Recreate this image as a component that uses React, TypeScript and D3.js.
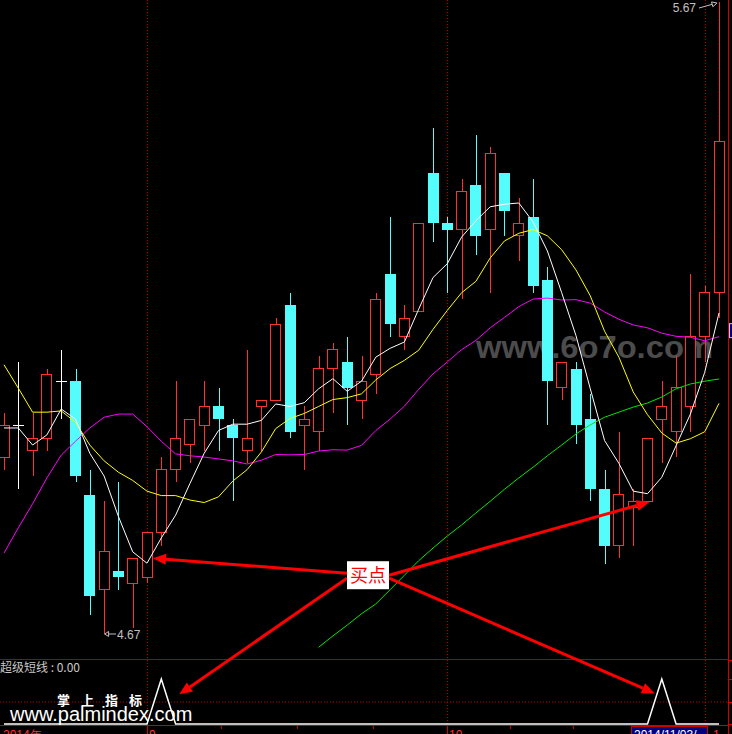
import React from 'react';
import * as d3 from 'd3';

// ---- Data ----
const opens = [4.95, 5.0, 4.96, 4.98, 5.07, 5.07, 4.89, 4.74, 4.77, 4.75, 4.76, 4.83, 4.93, 4.97, 5.0, 5.03, 5.0, 4.96, 5.03, 5.04, 5.19, 5.0, 4.99, 5.09, 5.1, 5.04, 5.08, 5.24, 5.14, 5.18, 5.4, 5.32, 5.31, 5.38, 5.31, 5.4, 5.3, 5.33, 5.23, 5.06, 5.09, 5.01, 4.9, 4.81, 4.87, 4.88, 5.01, 4.99, 5.03, 5.14, 5.21];
const highs = [5.02, 5.1, 5.02, 5.09, 5.12, 5.09, 4.93, 4.88, 4.91, 4.79, 4.83, 4.95, 5.07, 5.01, 5.07, 5.06, 5.01, 5.12, 5.04, 5.17, 5.21, 5.03, 5.11, 5.13, 5.14, 5.11, 5.21, 5.33, 5.19, 5.32, 5.47, 5.33, 5.39, 5.46, 5.44, 5.4, 5.36, 5.39, 5.25, 5.1, 5.1, 5.05, 4.93, 4.99, 4.9, 4.98, 5.07, 5.11, 5.24, 5.22, 5.67];
const lows = [4.93, 4.9, 4.92, 4.96, 5.01, 4.91, 4.7, 4.67, 4.74, 4.68, 4.75, 4.81, 4.91, 4.94, 4.96, 4.96, 4.88, 4.94, 4.96, 5.04, 4.98, 4.93, 4.96, 5.02, 5.0, 5.01, 5.05, 5.14, 5.12, 5.18, 5.29, 5.21, 5.2, 5.27, 5.21, 5.3, 5.26, 5.21, 5.0, 5.04, 4.97, 4.88, 4.78, 4.79, 4.81, 4.88, 4.94, 4.95, 4.99, 5.1, 5.17];
const closes = [5.0, 5.0, 4.98, 5.08, 5.07, 4.92, 4.73, 4.8, 4.76, 4.79, 4.83, 4.93, 4.98, 5.01, 5.03, 5.01, 4.98, 4.98, 5.04, 5.16, 4.99, 5.01, 5.09, 5.12, 5.06, 5.07, 5.2, 5.16, 5.17, 5.32, 5.32, 5.31, 5.37, 5.3, 5.43, 5.34, 5.32, 5.22, 5.07, 5.1, 5.0, 4.9, 4.81, 4.89, 4.88, 4.98, 5.03, 5.06, 5.14, 5.21, 5.45];

const ma5 = [4.996, 4.996, 4.969, 4.985, 5.026, 5.01, 4.956, 4.92, 4.856, 4.8, 4.782, 4.822, 4.858, 4.908, 4.956, 4.992, 5.002, 5.002, 5.008, 5.034, 5.03, 5.036, 5.058, 5.074, 5.054, 5.07, 5.108, 5.122, 5.132, 5.184, 5.234, 5.256, 5.298, 5.324, 5.346, 5.35, 5.352, 5.322, 5.276, 5.21, 5.142, 5.058, 4.976, 4.94, 4.896, 4.892, 4.918, 4.968, 5.018, 5.084, 5.178];
const ma10 = [5.096, 5.059, 5.021, 5.021, 5.023, 5.005, 4.969, 4.944, 4.926, 4.913, 4.896, 4.889, 4.889, 4.882, 4.878, 4.887, 4.912, 4.93, 4.958, 4.995, 5.011, 5.019, 5.03, 5.041, 5.044, 5.05, 5.072, 5.09, 5.103, 5.119, 5.152, 5.182, 5.21, 5.228, 5.265, 5.292, 5.304, 5.31, 5.3, 5.278, 5.246, 5.205, 5.149, 5.108, 5.053, 5.017, 4.988, 4.972, 4.979, 4.99, 5.035];
const ma20 = [4.798, 4.838, 4.876, 4.917, 4.953, 4.975, 4.996, 5.013, 5.018, 5.018, 4.998, 4.975, 4.955, 4.952, 4.95, 4.947, 4.944, 4.939, 4.945, 4.954, 4.9535, 4.954, 4.9595, 4.9615, 4.961, 4.9685, 4.992, 5.01, 5.0305, 5.057, 5.0815, 5.1005, 5.12, 5.1345, 5.1545, 5.171, 5.188, 5.2, 5.2015, 5.1985, 5.199, 5.1935, 5.1795, 5.168, 5.159, 5.1545, 5.146, 5.141, 5.1395, 5.134, 5.1405];
const ma60: (number | null)[] = [null, null, null, null, null, null, null, null, null, null, null, null, null, null, null, null, null, null, null, null, null, null, 4.649, 4.667, 4.684, 4.702, 4.7175, 4.74, 4.763, 4.786, 4.806, 4.825, 4.8425, 4.8615, 4.88, 4.899, 4.917, 4.934, 4.952, 4.969, 4.9865, 5.001, 5.013, 5.021, 5.029, 5.0355, 5.045, 5.058, 5.0656, 5.07, 5.0735];
const signal = [0, 0, 0, 0, 0, 0, 0, 0, 0, 0, 0, 1, 0, 0, 0, 0, 0, 0, 0, 0, 0, 0, 0, 0, 0, 0, 0, 0, 0, 0, 0, 0, 0, 0, 0, 0, 0, 0, 0, 0, 0, 0, 0, 0, 0, 0, 1, 0, 0, 0, 0];

const monthStartIdx = [10, 31, 49];
const monthLabels = ['9', '10', '1'];
const axisTickIdx = [15.2, 20.5, 25.8, 35.4, 39.8, 44.3];
const yearLabel = '2014年';
const cursorDate = '2014/11/03/一';
const highText = '5.67';
const lowText = '4.67';
const buyText = '买点';
const indicatorTitle = '超级短线 : 0.00';
const brandCn = '掌上指标';
const brandUrl = 'www.palmindex.com';
const watermark = 'www.6o7o.com';

const RED = '#ff3232';
const CYAN = '#54fcfc';
const GRID = '#b00000';

function arrow(x1: number, y1: number, x2: number, y2: number, head = 13, half = 5.5) {
  const dx = x2 - x1, dy = y2 - y1;
  const len = Math.hypot(dx, dy);
  const ux = dx / len, uy = dy / len;
  const bx = x2 - ux * head, by = y2 - uy * head;
  const px = -uy, py = ux;
  return {
    line: `M${x1},${y1}L${bx},${by}`,
    head: `M${x2},${y2}L${bx + px * half},${by + py * half}L${bx - px * half},${by - py * half}Z`,
  };
}

export default function App() {
  const W = 732, H = 734;
  const x = d3.scaleLinear().domain([0, 50]).range([4, 719]);
  const y = d3.scaleLinear().domain([4.67, 5.67]).range([634, 2]);
  const yi = d3.scaleLinear().domain([0, 1]).range([724, 679]);
  const bodyW = 11;

  const line = d3.line<number | null>()
    .defined((d) => d != null)
    .x((_, i) => x(i))
    .y((d) => y(d as number));
  const sigLine = d3.line<number>().x((_, i) => x(i)).y((d) => yi(d));

  const candles = closes.map((c, i) => {
    const o = opens[i], h = highs[i], l = lows[i];
    const cx = Math.round(x(i)) + 0.5;
    const left = Math.round(x(i) - bodyW / 2) + 0.5;
    if (c > o) {
      return (
        <g key={i} stroke={RED} shapeRendering="crispEdges">
          {h > c && <line x1={cx} x2={cx} y1={y(h)} y2={y(c)} />}
          {l < o && <line x1={cx} x2={cx} y1={y(o)} y2={y(l)} />}
          <rect x={left} y={y(c)} width={bodyW - 1} height={Math.max(1, y(o) - y(c))} fill="#000" />
        </g>
      );
    }
    if (c < o) {
      return (
        <g key={i} shapeRendering="crispEdges">
          <line x1={cx} x2={cx} y1={y(h)} y2={y(l)} stroke={CYAN} />
          <rect x={left - 0.5} y={y(o)} width={bodyW} height={Math.max(1, y(c) - y(o))} fill={CYAN} />
        </g>
      );
    }
    return (
      <g key={i} stroke="#fff" shapeRendering="crispEdges">
        <line x1={cx} x2={cx} y1={y(h)} y2={y(l)} />
        <line x1={left - 0.5} x2={left + bodyW - 0.5} y1={Math.round(y(c)) + 0.5} y2={Math.round(y(c)) + 0.5} />
      </g>
    );
  });

  // annotation geometry via scales
  const boxCx = x(25) + 6.5;
  const boxCy = y(4.763);
  const boxL = boxCx - 21, boxR = boxCx + 21;
  const a1 = arrow(boxL, boxCy - 2, x(10) + 6, y(4.79));
  const a2 = arrow(boxR, boxCy, x(45) + 2, y(4.879));
  const a3 = arrow(boxL, boxCy + 3, x(11) + 18, yi(0.66));
  const a4 = arrow(boxR, boxCy + 3, x(46) - 7, yi(0.68));

  const font = "'Liberation Sans', Arial, sans-serif";
  const cjk = "'Noto Sans CJK SC', sans-serif";

  return (
    <svg width={W} height={H} style={{ position: 'absolute', left: 0, top: 0, background: '#000' }}>
      <rect x={0} y={0} width={W} height={H} fill="#000" />
      <defs>
        <clipPath id="main">
          <rect x={0} y={0} width={728} height={658} />
        </clipPath>
      </defs>

      {/* month separators */}
      {monthStartIdx.map((m) => (
        <line key={m} x1={Math.round(x(m)) + 0.5} x2={Math.round(x(m)) + 0.5} y1={0} y2={725} stroke={GRID} strokeDasharray="1 2" />
      ))}
      {/* indicator mid dotted line */}
      <line x1={0} x2={728} y1={yi(0.5) + 0.5} y2={yi(0.5) + 0.5} stroke={GRID} strokeDasharray="1 2" />

      {/* watermark */}
      <text x={476} y={358} fontFamily={font} fontWeight="bold" fontSize={32} fill="#8a8a8a" opacity={0.55} textLength={237} lengthAdjust="spacingAndGlyphs">{watermark}</text>

      <g clipPath="url(#main)">
        {candles}
        <path d={line(ma60) || ''} fill="none" stroke="#00e600" strokeWidth={1} />
        <path d={line(ma20) || ''} fill="none" stroke="#ff00ff" strokeWidth={1} />
        <path d={line(ma10) || ''} fill="none" stroke="#ffff00" strokeWidth={1} />
        <path d={line(ma5) || ''} fill="none" stroke="#ffffff" strokeWidth={1} />
      </g>

      {/* high / low markers */}
      <text x={696} y={12} textAnchor="end" fontFamily={font} fontSize={12} fill="#c0c0c0">{highText}</text>
      {(() => { const a = arrow(699, 8, x(50) - 2, y(5.67) + 1, 5, 2.5); return (<g><path d={a.line} stroke="#c0c0c0" /><path d={a.head} fill="none" stroke="#c0c0c0" /></g>); })()}
      <text x={117} y={y(4.67) + 5} fontFamily={font} fontSize={12} fill="#c0c0c0">{lowText}</text>
      {(() => { const a = arrow(116, y(4.67), x(7) + 0.5, y(4.67), 4, 2.5); return (<g><path d={a.line} stroke="#c0c0c0" /><path d={a.head} fill="none" stroke="#c0c0c0" /></g>); })()}

      {/* panel separator */}
      <line x1={0} x2={728} y1={659.5} y2={659.5} stroke="#a80000" />
      <text x={0} y={672} fontFamily={cjk} fontSize={12} fill="#c8c8c8">{indicatorTitle}</text>

      {/* indicator */}
      <path d={sigLine(signal) || ''} fill="none" stroke="#fff" strokeWidth={1.5} />

      {/* brand */}
      <text x={57} y={705} fontFamily={cjk} fontWeight="bold" fontSize={13} letterSpacing={11} fill="#fff">{brandCn}</text>
      <text x={10} y={721} fontFamily={font} fontSize={20} fill="#fff">{brandUrl}</text>

      {/* axes */}
      <line x1={0} x2={728} y1={725.5} y2={725.5} stroke="#d00000" />
      <line x1={728.5} x2={728.5} y1={0} y2={H} stroke="#d00000" />
      {[660, 679, 702, 724].map((t) => (
        <line key={t} x1={728} x2={732} y1={t + 0.5} y2={t + 0.5} stroke="#d00000" />
      ))}
      {monthStartIdx.map((m) => (
        <line key={'t' + m} x1={Math.round(x(m)) + 0.5} x2={Math.round(x(m)) + 0.5} y1={725} y2={734} stroke="#d00000" />
      ))}
      {axisTickIdx.map((m) => (
        <line key={'s' + m} x1={Math.round(x(m)) + 0.5} x2={Math.round(x(m)) + 0.5} y1={725} y2={729} stroke="#d00000" />
      ))}
      <text x={3} y={739} fontFamily={font} fontSize={12} fill="#ff3232">{yearLabel}</text>
      {monthStartIdx.map((m, k) => (
        <text key={'l' + m} x={Math.round(x(m)) + (k === 2 ? 8 : 2)} y={739} fontFamily={font} fontSize={12} fill="#ff3232">{monthLabels[k]}</text>
      ))}
      <rect x={631.5} y={726.5} width={76} height={12} fill="#000080" stroke="#d00000" />
      <text x={634} y={739} fontFamily={font} fontSize={12} fill="#fff">{cursorDate}</text>
      <rect x={729.5} y={y(5.15) - 7} width={6} height={14} fill="#000080" stroke="#c0c0ff" />

      {/* buy-point annotation */}
      {[a1, a2, a3, a4].map((a, k) => (
        <g key={k}>
          <path d={a.line} stroke="#ff0000" strokeWidth={3} />
          <path d={a.head} fill="#ff0000" />
        </g>
      ))}
      <rect x={boxL} y={boxCy - 14} width={42} height={28} fill="#fff" />
      <text x={boxCx} y={boxCy + 6.5} textAnchor="middle" fontFamily={cjk} fontSize={18} fill="#ff0000">{buyText}</text>
    </svg>
  );
}
